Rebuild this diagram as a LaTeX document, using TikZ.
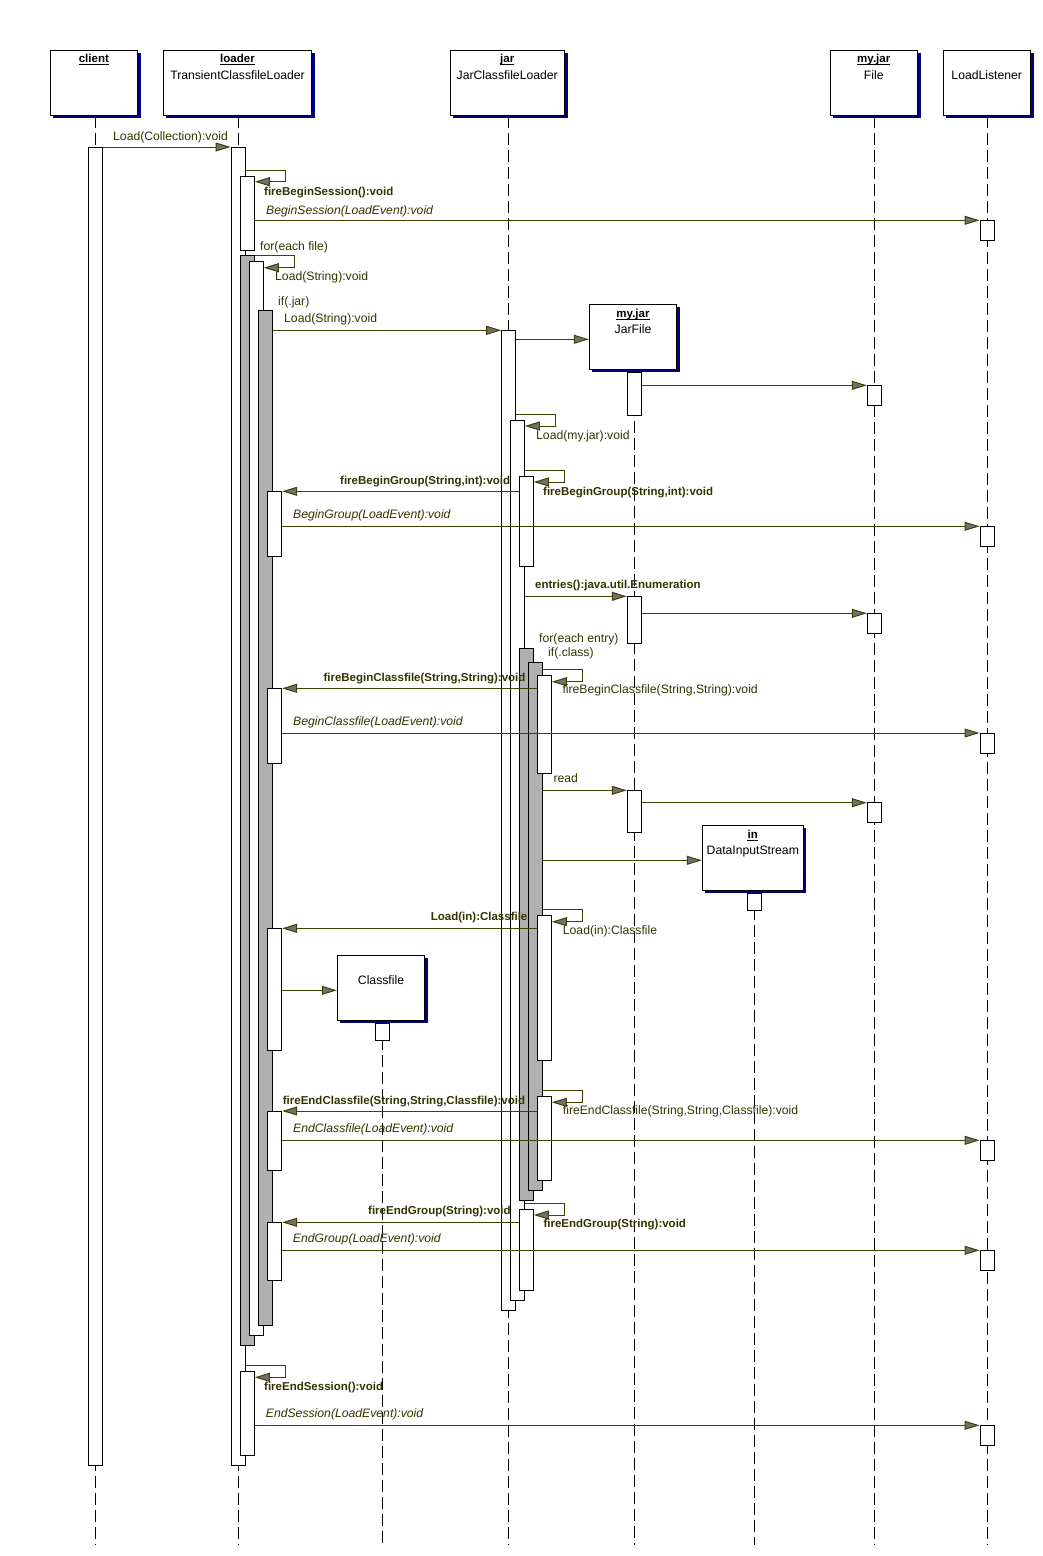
\documentclass[tikz,border=0pt]{standalone}
\usepackage{fontspec}
\setmainfont{Liberation Sans}
\usetikzlibrary{arrows.meta,fit,shadows}
\definecolor{msgcol}{RGB}{64,64,0}
\definecolor{txtcol}{RGB}{51,51,0}
\definecolor{tipcol}{RGB}{112,112,112}
\definecolor{barcol}{RGB}{176,176,176}
\definecolor{shcol}{RGB}{0,0,128}
\pgfdeclarelayer{back}
\pgfsetlayers{back,main}
\tikzset{
 act/.style={draw=black, fill=white, line width=1pt, inner sep=0pt},
 loopbar/.style={act, fill=barcol},
 obj/.style={draw=black, fill=white, line width=1pt, inner sep=0pt, general shadow={fill=shcol, shadow xshift=3pt, shadow yshift=-3pt}},
 life/.style={draw=black, line width=1pt, dash pattern=on 12pt off 5pt},
 msg/.style={draw=msgcol, line width=1pt, -{Triangle[length=15pt,width=9pt,fill=tipcol]}},
 lbl/.style={text=txtcol, inner sep=0pt, anchor=base west, font=\fontsize{12.2}{14}\selectfont},
 blbl/.style={lbl, font=\fontsize{11.5}{14}\selectfont\bfseries},
 ilbl/.style={lbl, font=\fontsize{12.2}{14}\selectfont\itshape},
 oname/.style={inner sep=0pt, anchor=base, font=\fontsize{11.5}{14}\selectfont\bfseries},
 otype/.style={inner sep=0pt, anchor=base, font=\fontsize{12.2}{14}\selectfont},
 uline/.style={draw=black, line width=1pt},
}
\begin{document}
\begin{tikzpicture}[x=1pt,y=-1pt]
\useasboundingbox (0,0) rectangle (1043,1556);

% ---------- header objects ----------
\node[obj, fit={(50,50)(137.7,115)}] (client) {};
\node[obj, fit={(163.3,50)(311.7,115)}] (loader) {};
\node[obj, fit={(450,50)(564.5,115)}] (jar) {};
\node[obj, fit={(830,50)(917.5,115)}] (file) {};
\node[obj, fit={(943,50)(1030.5,115)}] (listener) {};

\node[oname] (n-client) at (client.north |- 0,62.7) {client};
\node[oname] (n-loader) at (loader.north |- 0,62.7) {loader};
\node[otype] (t-loader) at (loader.north |- 0,79.3) {TransientClassfileLoader};
\node[oname] (n-jar) at (jar.north |- 0,62.7) {jar};
\node[otype] (t-jar) at (jar.north |- 0,79.3) {JarClassfileLoader};
\node[oname] (n-file) at (file.north |- 0,62.7) {my.jar};
\node[otype] (t-file) at (file.north |- 0,79.3) {File};
\node[otype] (t-listener) at (listener.north |- 0,79.3) {LoadListener};
\foreach \n in {n-client,n-loader,n-jar,n-file}
  \draw[uline] ([yshift=-2pt]\n.base west) -- ([yshift=-2pt]\n.base east);

% ---------- activations: client ----------
\node[act, fit={(88,147)(102.7,1465)}] (c0) {};
% loader
\node[act, fit={(231,147)(245.3,1465)}] (L0) {};
\node[act, fit={(240.3,176)(254.3,250.3)}] (L1) {};
\node[loopbar, fit={(240.3,255)(254.3,1345)}] (L2) {};
\node[act, fit={(249.3,261)(263.3,1335)}] (L3) {};
\node[loopbar, fit={(258.3,310)(272.3,1325)}] (L4) {};
\node[act, fit={(267.3,491.3)(281.7,556.3)}] (L5) {};
\node[act, fit={(267.3,688.3)(281.7,763)}] (L6) {};
\node[act, fit={(267.3,928.3)(281.7,1050.3)}] (L7) {};
\node[act, fit={(267.3,1111)(281.7,1170)}] (L8) {};
\node[act, fit={(267.3,1222.3)(281.7,1280)}] (L9) {};
\node[act, fit={(240.3,1371.3)(254.3,1455.3)}] (L10) {};
% jar
\node[act, fit={(501.7,330.3)(515.7,1310.3)}] (J0) {};
\node[act, fit={(510.3,420.7)(524.3,1300.3)}] (J1) {};
\node[act, fit={(519.3,476.3)(533.3,566.3)}] (J2) {};
\node[loopbar, fit={(519.3,648.3)(533.3,1200)}] (J3) {};
\node[loopbar, fit={(528.3,662.7)(542.3,1190)}] (J4) {};
\node[act, fit={(537.3,675)(551.3,773.3)}] (J5) {};
\node[act, fit={(537.3,915.3)(551.3,1060)}] (J6) {};
\node[act, fit={(537.3,1096.3)(551.3,1180)}] (J7) {};
\node[act, fit={(519.3,1209.3)(533.3,1290.3)}] (J8) {};
% JarFile
\node[obj, fit={(589.3,304.3)(676.7,369.3)}] (jarfile) {};
\node[oname] (n-jarfile) at (jarfile.north |- 0,317.3) {my.jar};
\node[otype] (t-jarfile) at (jarfile.north |- 0,333) {JarFile};
\draw[uline] ([yshift=-2pt]n-jarfile.base west) -- ([yshift=-2pt]n-jarfile.base east);
\node[act, fit={(627.3,372.3)(641.7,415.3)}] (F0) {};
\node[act, fit={(627.3,596.3)(641.7,643.3)}] (F1) {};
\node[act, fit={(627.3,790.3)(641.7,832.3)}] (F2) {};
% File
\node[act, fit={(867.3,385.3)(881.7,405.3)}] (P1) {};
\node[act, fit={(867.3,613.3)(881.7,633.3)}] (P2) {};
\node[act, fit={(867.3,802.7)(881.7,822.7)}] (P3) {};
% LoadListener
\node[act, fit={(980,220.3)(994,240.3)}] (M1) {};
\node[act, fit={(980,526.3)(994,546.3)}] (M2) {};
\node[act, fit={(980,733)(994,753)}] (M3) {};
\node[act, fit={(980,1140.3)(994,1160.3)}] (M4) {};
\node[act, fit={(980,1250.3)(994,1270.3)}] (M5) {};
\node[act, fit={(980,1425.3)(994,1445.3)}] (M6) {};
% DataInputStream
\node[obj, fit={(702.3,825.3)(803.3,890)}] (dis) {};
\node[oname] (n-dis) at (dis.north |- 0,838) {in};
\node[otype] (t-dis) at (dis.north |- 0,854.3) {DataInputStream};
\draw[uline] ([yshift=-2pt]n-dis.base west) -- ([yshift=-2pt]n-dis.base east);
\node[act, fit={(747.3,893.3)(761.7,910.3)}] (D0) {};
% Classfile
\node[obj, fit={(337.3,955.3)(424.7,1020.3)}] (cf) {};
\node[otype] (t-cf) at (cf.north |- 0,984) {Classfile};
\node[act, fit={(375.7,1023.3)(389.7,1040.3)}] (K0) {};

% ---------- lifelines ----------
\begin{pgfonlayer}{back}
\draw[life] (c0.north |- client.south) -- (c0.north |- 0,1545);
\draw[life] (L0.north |- loader.south) -- (L0.north |- 0,1545);
\draw[life] (J0.north |- jar.south) -- (J0.north |- 0,1545);
\draw[life] (P1.north |- file.south) -- (P1.north |- 0,1545);
\draw[life] (M1.north |- listener.south) -- (M1.north |- 0,1545);
\draw[life] (F0.north |- jarfile.south) -- (F0.north |- 0,1545);
\draw[life] (D0.north |- dis.south) -- (D0.north |- 0,1545);
\draw[life] (K0.north |- cf.south) -- (K0.north |- 0,1545);
\end{pgfonlayer}

% ---------- messages ----------
\draw[msg] (c0.east |- 0,147) -- (L0.west |- 0,147);
\draw[msg] (L0.east |- 0,170.3) -- (285.7,170.3) |- (L1.east |- 0,181.7);
\draw[msg] (L1.east |- 0,220.3) -- (M1.west |- 0,220.3);
\draw[msg] (L2.east |- 0,255.7) -- (294.3,255.7) |- (L3.east |- 0,267.7);
\draw[msg] (L4.east |- 0,330.3) -- (J0.west |- 0,330.3);
\draw[msg] (J0.east |- 0,339.3) -- (jarfile.west |- 0,339.3);
\draw[msg] (F0.east |- 0,385.3) -- (P1.west |- 0,385.3);
\draw[msg] (J0.east |- 0,414.3) -- (555.3,414.3) |- (J1.east |- 0,426);
\draw[msg] (J1.east |- 0,470.3) -- (564.3,470.3) |- (J2.east |- 0,482);
\draw[msg] (J2.west |- 0,491.3) -- (L5.east |- 0,491.3);
\draw[msg] (L5.east |- 0,526.3) -- (M2.west |- 0,526.3);
\draw[msg] (J1.east |- 0,596.3) -- (F1.west |- 0,596.3);
\draw[msg] (F1.east |- 0,613.3) -- (P2.west |- 0,613.3);
\draw[msg] (J4.east |- 0,669.3) -- (582.3,669.3) |- (J5.east |- 0,681.7);
\draw[msg] (J5.west |- 0,688.3) -- (L6.east |- 0,688.3);
\draw[msg] (L6.east |- 0,733) -- (M3.west |- 0,733);
\draw[msg] (J4.east |- 0,790.3) -- (F2.west |- 0,790.3);
\draw[msg] (F2.east |- 0,802.7) -- (P3.west |- 0,802.7);
\draw[msg] (J4.east |- 0,860.3) -- (dis.west |- 0,860.3);
\draw[msg] (J4.east |- 0,909.3) -- (582.3,909.3) |- (J6.east |- 0,921.7);
\draw[msg] (J6.west |- 0,928.3) -- (L7.east |- 0,928.3);
\draw[msg] (L7.east |- 0,990.3) -- (cf.west |- 0,990.3);
\draw[msg] (J4.east |- 0,1090.3) -- (582.3,1090.3) |- (J7.east |- 0,1102.3);
\draw[msg] (J7.west |- 0,1111) -- (L8.east |- 0,1111);
\draw[msg] (L8.east |- 0,1140.3) -- (M4.west |- 0,1140.3);
\draw[msg] (J1.east |- 0,1203.3) -- (564.3,1203.3) |- (J8.east |- 0,1215);
\draw[msg] (J8.west |- 0,1222.3) -- (L9.east |- 0,1222.3);
\draw[msg] (L9.east |- 0,1250.3) -- (M5.west |- 0,1250.3);
\draw[msg] (L0.east |- 0,1365.7) -- (285.7,1365.7) |- (L10.east |- 0,1377.3);
\draw[msg] (L10.east |- 0,1425.3) -- (M6.west |- 0,1425.3);

% ---------- labels ----------
\node[lbl]  (m1)  at (113,140) {Load(Collection):void};
\node[blbl] (m2)  at (264,195.5) {fireBeginSession():void};
\node[ilbl] (m3)  at (266,214) {BeginSession(LoadEvent):void};
\node[lbl]  (m4)  at (260,250.3) {for(each file)};
\node[lbl]  (m5)  at (275,280) {Load(String):void};
\node[lbl]  (m6)  at (278,305) {if(.jar)};
\node[lbl]  (m7)  at (284,322.7) {Load(String):void};
\node[lbl]  (m8)  at (536,439) {Load(my.jar):void};
\node[blbl] (m9)  at (340,484) {fireBeginGroup(String,int):void};
\node[blbl] (m10) at (543,495) {fireBeginGroup(String,int):void};
\node[ilbl] (m11) at (293,518.7) {BeginGroup(LoadEvent):void};
\node[blbl] (m12) at (535,588.7) {entries():java.util.Enumeration};
\node[lbl]  (m13) at (539,642.7) {for(each entry)};
\node[lbl]  (m14) at (548,656.7) {if(.class)};
\node[blbl] (m15) at (323.3,681) {fireBeginClassfile(String,String):void};
\node[lbl]  (m16) at (562.3,693.3) {fireBeginClassfile(String,String):void};
\node[ilbl] (m17) at (293,725.5) {BeginClassfile(LoadEvent):void};
\node[lbl]  (m18) at (553.3,782.3) {read};
\node[blbl] (m19) at (430.7,920.7) {Load(in):Classfile};
\node[lbl]  (m20) at (562.7,934) {Load(in):Classfile};
\node[blbl] (m21) at (282.7,1104) {fireEndClassfile(String,String,Classfile):void};
\node[lbl]  (m22) at (562.7,1114.5) {fireEndClassfile(String,String,Classfile):void};
\node[ilbl] (m23) at (293,1132.3) {EndClassfile(LoadEvent):void};
\node[blbl] (m24) at (368,1214.3) {fireEndGroup(String):void};
\node[blbl] (m25) at (543.3,1227.3) {fireEndGroup(String):void};
\node[ilbl] (m26) at (292.7,1242.7) {EndGroup(LoadEvent):void};
\node[blbl] (m27) at (264,1390) {fireEndSession():void};
\node[ilbl] (m28) at (265.7,1417.7) {EndSession(LoadEvent):void};
\end{tikzpicture}
\end{document}
